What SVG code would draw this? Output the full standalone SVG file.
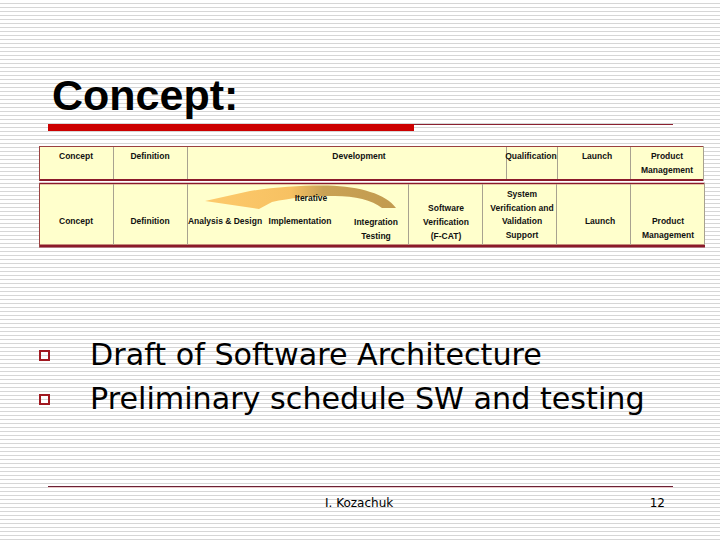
<svg xmlns="http://www.w3.org/2000/svg" width="720" height="540" viewBox="0 0 720 540">
<defs>
<pattern id="stripes" x="0" y="0" width="8" height="4" patternUnits="userSpaceOnUse">
<rect x="0" y="0" width="8" height="4" fill="#ffffff"/>
<rect x="0" y="3" width="8" height="1" fill="#d6d6d6"/>
</pattern>
<linearGradient id="arrowGrad" gradientUnits="userSpaceOnUse" x1="205" y1="0" x2="396" y2="0">
<stop offset="0" stop-color="#fdca6c"/>
<stop offset="0.45" stop-color="#f7c162"/>
<stop offset="0.62" stop-color="#c9a255"/>
<stop offset="1" stop-color="#c29b4f"/>
</linearGradient>
<style>
.cell{fill:#ffffcc}
.vl{stroke:#a8a290;stroke-width:1}
.t{font-family:"Liberation Sans",Arial,sans-serif;font-size:8.5px;font-weight:bold;fill:#111;text-anchor:middle}
.body{font-family:"DejaVu Sans",Verdana,sans-serif;font-size:30.2px;fill:#000}
.foot{font-family:"DejaVu Sans",Tahoma,sans-serif;font-size:12px;fill:#000}
.bullet{fill:none;stroke:#a01820;stroke-width:2}
</style>
</defs>
<rect x="0" y="0" width="720" height="540" fill="url(#stripes)"/>

<g id="title">
<text x="52" y="110" font-family="Liberation Sans, Arial, sans-serif" font-size="43" font-weight="bold" fill="#000">Concept:</text>
<rect x="48" y="124" width="366" height="7" fill="#cc0000"/>
<line x1="414" y1="124.5" x2="673" y2="124.5" stroke="#8b2030" stroke-width="1"/>
</g>

<g id="table">
<g id="row1">
<rect x="39" y="146" width="665" height="35" class="cell"/>
<line x1="39" y1="146.5" x2="704" y2="146.5" stroke="#9a4040" stroke-width="1"/>
<line x1="39" y1="180" x2="704" y2="180" stroke="#8b1a2a" stroke-width="2"/>
<line x1="39.5" y1="146" x2="39.5" y2="181" stroke="#9a4040" stroke-width="1"/>
<line x1="703.5" y1="146" x2="703.5" y2="181" stroke="#a8a290" stroke-width="1"/>
<line x1="113.5" y1="147" x2="113.5" y2="179" class="vl"/>
<line x1="187.5" y1="147" x2="187.5" y2="179" class="vl"/>
<line x1="506.5" y1="147" x2="506.5" y2="179" class="vl"/>
<line x1="557.5" y1="147" x2="557.5" y2="179" class="vl"/>
<line x1="630.5" y1="147" x2="630.5" y2="179" class="vl"/>
<g id="r1-concept"><text x="76" y="159" class="t">Concept</text></g>
<g id="r1-definition"><text x="150" y="159" class="t">Definition</text></g>
<g id="r1-development"><text x="359" y="159" class="t">Development</text></g>
<g id="r1-qualification"><text x="531" y="159" class="t">Qualification</text></g>
<g id="r1-launch"><text x="597" y="159" class="t">Launch</text></g>
<g id="r1-product"><text x="667" y="159" class="t">Product</text><text x="667" y="173" class="t">Management</text></g>
</g>

<g id="row2">
<rect x="39" y="183" width="666" height="63" class="cell"/>
<line x1="39" y1="183.5" x2="705" y2="183.5" stroke="#8b1a2a" stroke-width="1.5"/>
<line x1="39" y1="246" x2="705" y2="246" stroke="#8b1a2a" stroke-width="3"/>
<line x1="39.5" y1="183" x2="39.5" y2="247" stroke="#9a4040" stroke-width="1"/>
<line x1="704.5" y1="183" x2="704.5" y2="245" stroke="#a8a290" stroke-width="1"/>
<line x1="113.5" y1="184" x2="113.5" y2="245" class="vl"/>
<line x1="187.5" y1="184" x2="187.5" y2="245" class="vl"/>
<line x1="408.5" y1="184" x2="408.5" y2="245" class="vl"/>
<line x1="482.5" y1="184" x2="482.5" y2="245" class="vl"/>
<line x1="556.5" y1="184" x2="556.5" y2="245" class="vl"/>
<line x1="630.5" y1="184" x2="630.5" y2="245" class="vl"/>
<g id="r2-arrow">
<path d="M205,201 L250,191 C275,187 305,185 328,185.5 C360,186.5 386,194 396,208 L382,208 C372,200 355,196 335,196 C310,196 290,198 272,202 L259,209 Z" fill="url(#arrowGrad)"/>
<text x="311" y="201" class="t">Iterative</text>
</g>
<g id="r2-concept"><text x="76" y="224" class="t">Concept</text></g>
<g id="r2-definition"><text x="150" y="224" class="t">Definition</text></g>
<g id="r2-analysis"><text x="225" y="224" class="t">Analysis &amp; Design</text></g>
<g id="r2-implementation"><text x="300" y="224" class="t">Implementation</text></g>
<g id="r2-integration"><text x="376" y="225" class="t">Integration</text><text x="376" y="239" class="t">Testing</text></g>
<g id="r2-swverification"><text x="446" y="211" class="t">Software</text><text x="446" y="225" class="t">Verification</text><text x="446" y="239" class="t">(F-CAT)</text></g>
<g id="r2-sysverification"><text x="522" y="197" class="t">System</text><text x="522" y="211" class="t">Verification and</text><text x="522" y="224" class="t">Validation</text><text x="522" y="238" class="t">Support</text></g>
<g id="r2-launch"><text x="600" y="224" class="t">Launch</text></g>
<g id="r2-product"><text x="668" y="224" class="t">Product</text><text x="668" y="238" class="t">Management</text></g>
</g>
</g>

<g id="bullets">
<rect x="40" y="351" width="9" height="9" class="bullet"/>
<text x="90" y="365" class="body">Draft of Software Architecture</text>
<rect x="40" y="395" width="9" height="9" class="bullet"/>
<text x="90" y="409" class="body">Preliminary schedule SW and testing</text>
</g>

<g id="footer">
<line x1="48" y1="486.5" x2="673" y2="486.5" stroke="#6b2035" stroke-width="1"/>
<line x1="48" y1="487.5" x2="673" y2="487.5" stroke="#e8c8c8" stroke-width="1"/>
<text x="325" y="507" class="foot">I. Kozachuk</text>
<text x="665" y="507" class="foot" text-anchor="end">12</text>
</g>
</svg>
